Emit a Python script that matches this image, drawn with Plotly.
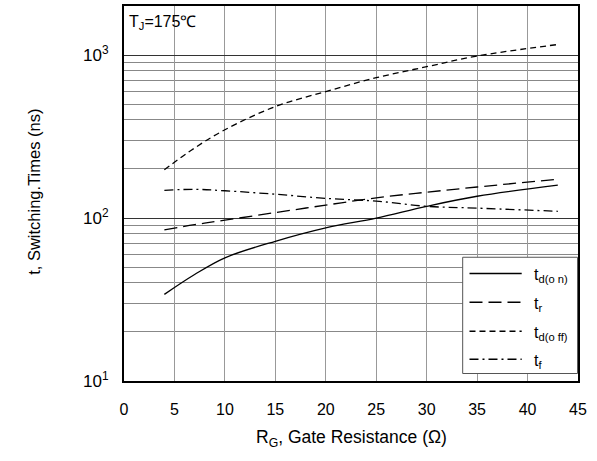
import plotly.graph_objects as go

rg = [4, 7, 10, 15, 20, 25, 30, 35, 43]
td_on = [34, 45, 57, 72, 87, 100, 118, 136, 159]
t_r = [84.5, 91, 97, 108, 120, 133, 144, 155, 173]
td_off = [198, 269, 348, 483, 597, 726, 848, 986, 1161]
t_f = [148, 150, 147, 140, 132, 127, 118, 115, 110]

names = ["t<sub>d(o n)</sub>", "t<sub>r</sub>", "t<sub>d(o ff)</sub>", "t<sub>f</sub>"]
series = [td_on, t_r, td_off, t_f]
dashes = ["solid", "13px,6px", "6px,4px", "9px,4px,2px,4px"]

x_ticks = [0, 5, 10, 15, 20, 25, 30, 35, 40, 45]
y_major = [10, 100, 1000]
y_major_text = ["10<sup>1</sup>", "10<sup>2</sup>", "10<sup>3</sup>"]
y_minor = [v * d for d in (10, 100, 1000) for v in range(2, 10) if v * d <= 2000]

fig = go.Figure()
for nm, ys, ds in zip(names, series, dashes):
    fig.add_trace(go.Scatter(
        x=rg, y=ys, name=nm, mode="lines", showlegend=False,
        line=dict(color="black", width=1.3, dash=ds, shape="spline", smoothing=1.0),
    ))

# manual legend (box, line samples, labels)
leg_x0, leg_x1, leg_y0, leg_y1 = 0.746, 0.999, 0.020, 0.330
row_y = [0.287, 0.210, 0.133, 0.058]
shapes = [dict(type="rect", xref="paper", yref="paper", x0=leg_x0, x1=leg_x1,
               y0=leg_y0, y1=leg_y1, line=dict(color="#555", width=1),
               fillcolor="white", layer="above")]
annotations = []
for nm, ds, ry in zip(names, dashes, row_y):
    shapes.append(dict(type="line", xref="paper", yref="paper", x0=0.761, x1=0.876,
                       y0=ry, y1=ry, line=dict(color="black", width=1.5, dash=ds),
                       layer="above"))
    annotations.append(dict(text=nm, xref="paper", yref="paper", x=0.899, y=ry,
                            xanchor="left", yanchor="middle", showarrow=False,
                            font=dict(size=16), yshift=-2))

font = "Liberation Sans, Arial, sans-serif"
annotations += [
    dict(text="T<sub>J</sub>=175℃", xref="paper", yref="paper", x=0.006, y=0.988,
         xanchor="left", yanchor="top", showarrow=False, font=dict(size=16)),
    dict(text="R<sub>G</sub>, Gate Resistance (Ω)", xref="paper", yref="paper",
         x=0.5, y=-0.153, xanchor="center", yanchor="middle", showarrow=False,
         font=dict(size=17.5)),
    dict(text="t, Switching.Times (ns)", xref="paper", yref="paper",
         x=-0.2, y=0.505, xanchor="center", yanchor="middle", showarrow=False,
         textangle=-90, font=dict(size=16.5)),
]

fig.update_layout(
    width=597, height=461,
    margin=dict(l=124, r=19, t=4, b=80),
    paper_bgcolor="white", plot_bgcolor="white",
    font=dict(family=font, size=16, color="black"),
    showlegend=False,
    xaxis=dict(
        range=[0, 45], tickvals=x_ticks, showgrid=True, gridcolor="#999", gridwidth=1,
        showline=True, linecolor="black", linewidth=2, mirror=True,
        ticks="", ticklabelstandoff=13, zeroline=False,
        tickfont=dict(size=16),
    ),
    yaxis=dict(
        type="log", range=[1, 3.301],
        tickvals=y_major, ticktext=y_major_text,
        showgrid=True, gridcolor="#333", gridwidth=1,
        minor=dict(tickvals=y_minor, showgrid=True, gridcolor="#888", gridwidth=1, ticks=""),
        showline=True, linecolor="black", linewidth=2, mirror=True,
        ticks="", ticklabelstandoff=10, zeroline=False,
        tickfont=dict(size=17),
    ),
    shapes=shapes,
    annotations=annotations,
)

fig.write_html("out.html")
